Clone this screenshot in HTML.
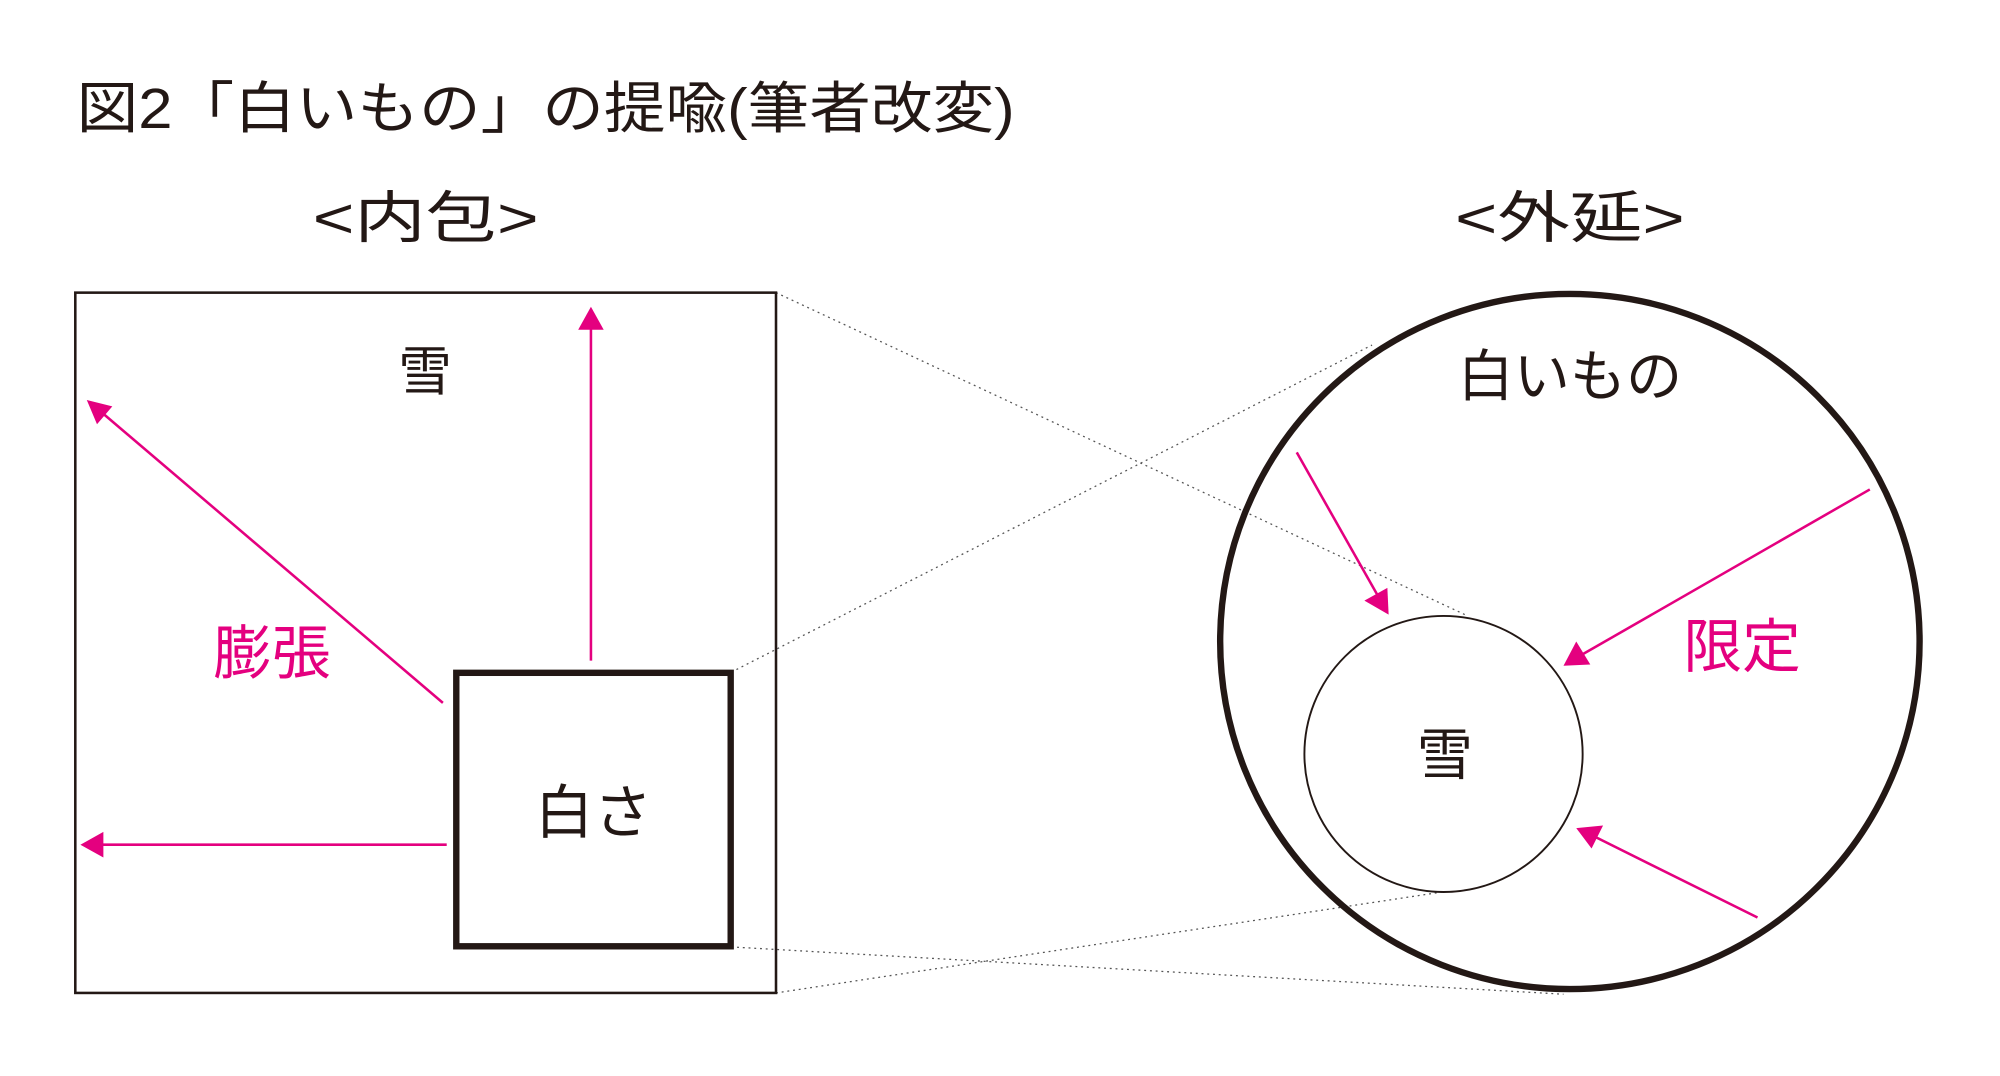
<!DOCTYPE html>
<html><head><meta charset="utf-8"><style>
html,body{margin:0;padding:0;background:#fff;}
svg{display:block;}
text{font-family:"Liberation Sans","Noto Sans CJK JP",sans-serif;}
</style></head><body>
<svg width="2000" height="1076" viewBox="0 0 1567 842" preserveAspectRatio="none" xmlns="http://www.w3.org/2000/svg">
<text x="60" y="100" font-size="44" fill="#231815" textLength="735" lengthAdjust="spacingAndGlyphs">図2「白いもの」の提喩(筆者改変)</text>
<text x="245" y="186" font-size="44" fill="#231815" textLength="177" lengthAdjust="spacingAndGlyphs">&lt;内包&gt;</text>
<text x="1140" y="186" font-size="44" fill="#231815" textLength="180" lengthAdjust="spacingAndGlyphs">&lt;外延&gt;</text>

<g fill="none" stroke="#555" stroke-width="1" stroke-dasharray="1.5 3">
<line x1="608" y1="229" x2="1150" y2="482"/>
<line x1="573" y1="526" x2="1075" y2="270"/>
<line x1="573" y1="741" x2="1225" y2="778"/>
<line x1="608" y1="777" x2="1130" y2="698"/>
</g>

<rect x="59" y="229" width="549" height="548" fill="none" stroke="#231815" stroke-width="2"/>
<rect x="357.5" y="526.5" width="215" height="214" fill="#fff" stroke="#231815" stroke-width="5"/>
<ellipse cx="1230" cy="502" rx="274" ry="272" fill="none" stroke="#231815" stroke-width="5"/>
<ellipse cx="1131" cy="590" rx="109" ry="108" fill="none" stroke="#231815" stroke-width="1.5"/>

<text x="333" y="305" font-size="42" fill="#231815" text-anchor="middle">雪</text>
<text x="465" y="652" font-size="46" fill="#231815" text-anchor="middle">白さ</text>
<text x="213" y="527" font-size="46" fill="#e4007f" text-anchor="middle">膨張</text>
<text x="1230" y="310" font-size="44" fill="#231815" text-anchor="middle">白いもの</text>
<text x="1132" y="606" font-size="44" fill="#231815" text-anchor="middle">雪</text>
<text x="1365" y="522" font-size="46" fill="#e4007f" text-anchor="middle">限定</text>

<g stroke="#e4007f" stroke-width="2" fill="#e4007f">
<line x1="463" y1="517" x2="463" y2="255"/>
<polygon points="463,240 453,258 473,258" stroke="none"/>
<line x1="347" y1="550" x2="80" y2="323"/>
<polygon points="68,313 88,318 76,332" stroke="none"/>
<line x1="350" y1="661" x2="78" y2="661"/>
<polygon points="63,661 81,651 81,671" stroke="none"/>
<line x1="1016" y1="354" x2="1080" y2="467"/>
<polygon points="1088,481 1069,470 1087,460" stroke="none"/>
<line x1="1465" y1="383" x2="1240" y2="512"/>
<polygon points="1225,521 1235,502 1246,520" stroke="none"/>
<line x1="1377" y1="718" x2="1250" y2="655"/>
<polygon points="1235,648 1256,646 1247,664" stroke="none"/>
</g>
</svg>
</body></html>
